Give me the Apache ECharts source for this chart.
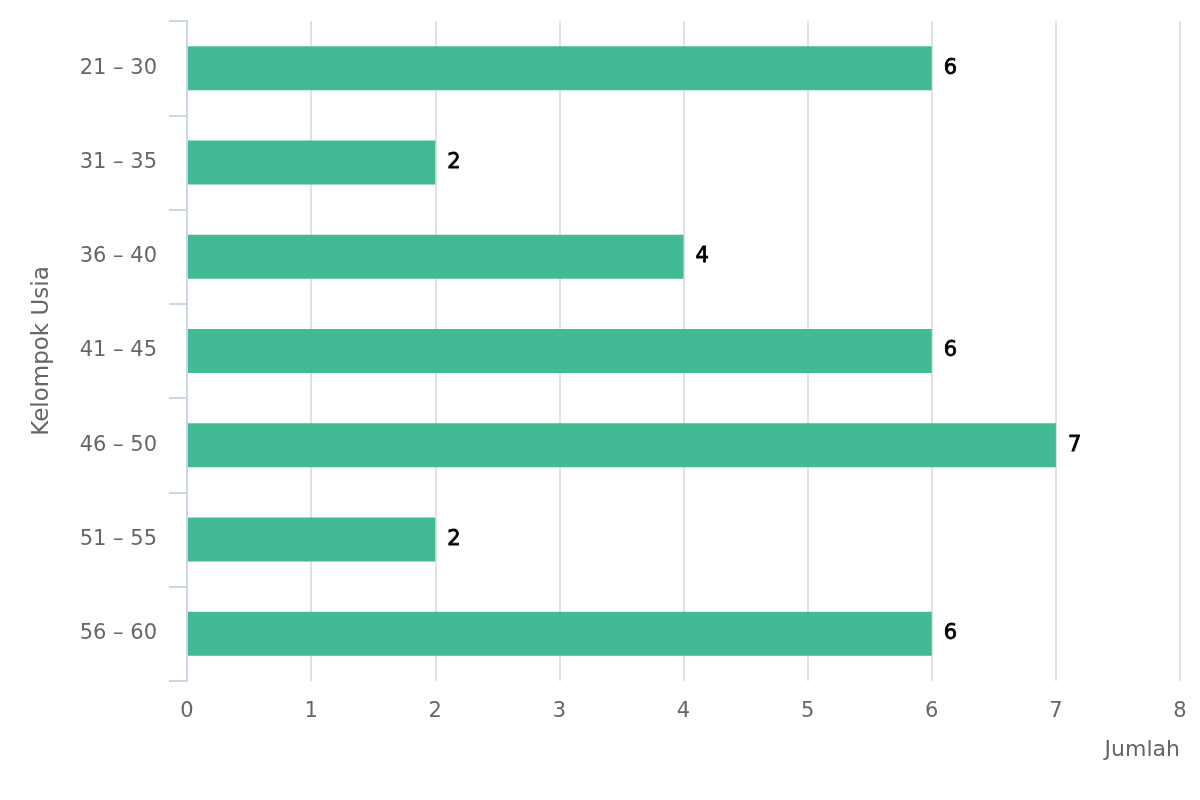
<!DOCTYPE html>
<html>
<head>
<meta charset="utf-8">
<script src="https://cdn.jsdelivr.net/npm/echarts@6/dist/echarts.min.js"></script>
<style>html,body{margin:0;padding:0;background:#fff}#c{width:1200px;height:800px}</style>
</head>
<body>
<div id="c"></div>
<script>
const categories = ['21 – 30', '31 – 35', '36 – 40', '41 – 45', '46 – 50', '51 – 55', '56 – 60'];
const values = [6, 2, 4, 6, 7, 2, 6];
const xAxisTitle = 'Jumlah';
const yAxisTitle = 'Kelompok Usia';

const chart = echarts.init(document.getElementById('c'));
const font = 'DejaVu Sans';
chart.setOption({
  animation: false,
  grid: { left: 187, right: 20, top: 21, bottom: 119 },
  xAxis: {
    type: 'value', min: 0, max: 8, interval: 1,
    axisLine: { show: false }, axisTick: { show: false },
    splitLine: { show: true, lineStyle: { color: '#e2e2e2', width: 2 } },
    axisLabel: { color: '#666', fontFamily: font, fontSize: 21, margin: 20 },
    name: xAxisTitle, nameLocation: 'end', nameGap: 0,
    nameTextStyle: { color: '#666', fontFamily: font, fontSize: 22, align: 'right', verticalAlign: 'top', padding: [58, 0, 0, 0] }
  },
  yAxis: {
    type: 'category', data: categories, inverse: true, z: 5,
    axisLine: { show: true, lineStyle: { color: '#ccd6eb', width: 2 } },
    axisTick: { show: true, length: 18, lineStyle: { color: '#ccd6eb', width: 2 } },
    axisLabel: { color: '#666', fontFamily: font, fontSize: 21, margin: 30 },
    name: yAxisTitle, nameLocation: 'middle', nameGap: 133, nameRotate: 90,
    nameTextStyle: { color: '#666', fontFamily: font, fontSize: 23 }
  },
  series: [{
    type: 'bar', data: values, barWidth: 44,
    itemStyle: { color: '#42ba96' },
    label: { show: true, position: 'right', distance: 12, color: '#000', fontFamily: font, fontSize: 21, fontWeight: 'normal', textBorderColor: '#000', textBorderWidth: 0.8 }
  }]
});
</script>
</body>
</html>
